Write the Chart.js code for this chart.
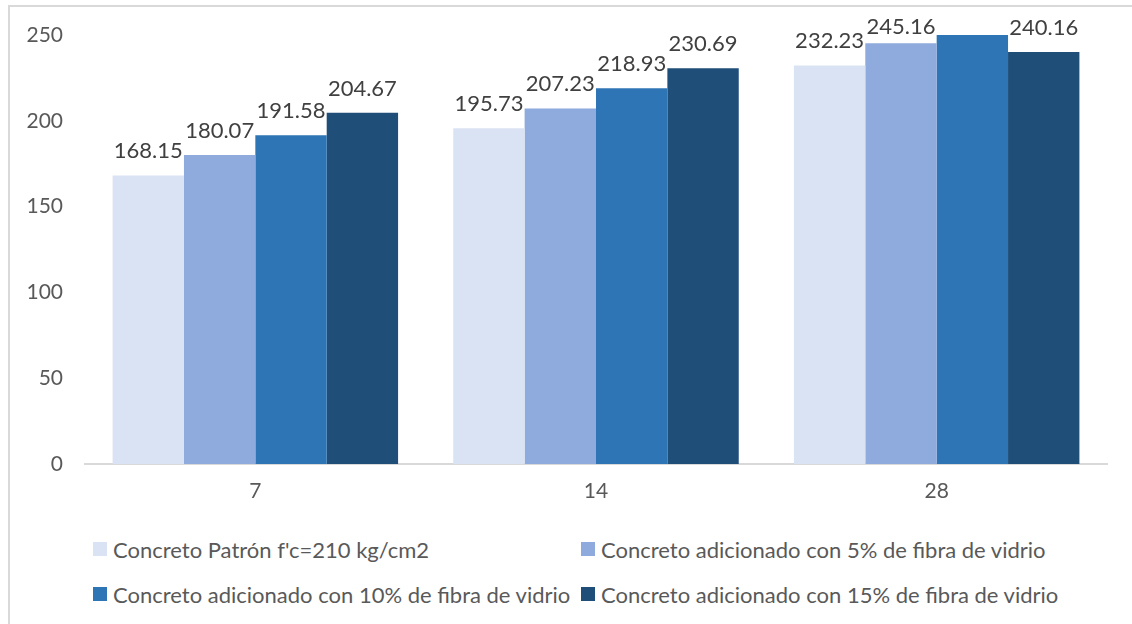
<!DOCTYPE html>
<html>
<head>
<meta charset="utf-8">
<script src="https://cdn.jsdelivr.net/npm/chart.js@4.4.0/dist/chart.umd.min.js"></script>
<style>
  html, body { margin: 0; padding: 0; background: #ffffff; }
  body { width: 1132px; height: 624px; position: relative; overflow: hidden; font-family: Lato, "Open Sans", sans-serif; }
  #frame { position: absolute; left: 8px; top: 5px; width: 1200px; height: 700px; border-left: 2px solid #d9d9d9; border-top: 2px solid #d9d9d9; box-sizing: border-box; }
  #wrap { position: absolute; left: 0; top: 0; width: 1132px; height: 520px; }
  .leg { position: absolute; display: flex; align-items: center; font-size: 22px; color: #595959; white-space: nowrap; height: 24px; }
  .leg span.box { display: inline-block; width: 14px; height: 14px; margin-right: 6px; }
</style>
</head>
<body>
<div id="frame"></div>
<div id="wrap"><canvas id="c"></canvas></div>
<div id="legend"></div>
<script>
const categories = ["7", "14", "28"];
const seriesNames = [
  "Concreto Patrón f'c=210 kg/cm2",
  "Concreto adicionado con 5% de fibra de vidrio",
  "Concreto adicionado con 10% de fibra de vidrio",
  "Concreto adicionado con 15% de fibra de vidrio"
];
const patron = [168.15, 195.73, 232.23];
const fibra5 = [180.07, 207.23, 245.16];
const fibra10 = [191.58, 218.93, 254.0];
const fibra15 = [204.67, 230.69, 240.16];
const yTicks = [0, 50, 100, 150, 200, 250];
const colors = ["#DAE3F3", "#8FAADC", "#2E75B6", "#1F4E79"];

const seriesValues = [patron, fibra5, fibra10, fibra15];
const yMax = yTicks[yTicks.length - 1];

const labelPlugin = {
  id: 'barLabels',
  afterDatasetsDraw(chart) {
    const ctx = chart.ctx;
    ctx.save();
    ctx.font = '22px Lato, "Open Sans", sans-serif';
    ctx.fillStyle = '#404040';
    ctx.textAlign = 'center';
    ctx.textBaseline = 'alphabetic';
    chart.data.datasets.forEach((ds, i) => {
      const meta = chart.getDatasetMeta(i);
      meta.data.forEach((bar, j) => {
        const v = ds.data[j];
        if (v > yMax) return;
        let y = bar.y - 17;
        if (y < 34) y = 34;
        ctx.fillText(v.toFixed(2), bar.x, y);
      });
    });
    ctx.restore();
  }
};

new Chart(document.getElementById('c'), {
  type: 'bar',
  data: {
    labels: categories,
    datasets: seriesValues.map((vals, i) => ({
      label: seriesNames[i],
      data: vals,
      backgroundColor: colors[i],
      borderWidth: 0,
      categoryPercentage: 0.838,
      barPercentage: 1.0
    }))
  },
  options: {
    responsive: true,
    maintainAspectRatio: false,
    animation: false,
    devicePixelRatio: 1,
    layout: { padding: { top: 35, right: 25, left: 0, bottom: 0 } },
    plugins: { legend: { display: false }, tooltip: { enabled: false } },
    scales: {
      x: {
        grid: { display: false, drawTicks: false },
        border: { display: true, color: '#d9d9d9', width: 2 },
        ticks: { color: '#595959', font: { family: 'Lato', size: 21 }, padding: 15 },
        afterFit(scale) { scale.height = 56; }
      },
      y: {
        min: 0,
        max: yMax,
        afterBuildTicks(scale) { scale.ticks = yTicks.map(v => ({ value: v })); },
        grid: { display: false, drawTicks: false },
        border: { display: false },
        ticks: { color: '#595959', font: { family: 'Lato', size: 21 }, padding: 22 },
        afterFit(scale) { scale.width = 85; }
      }
    }
  },
  plugins: [labelPlugin]
});

const legendPos = [
  { x: 93, y: 537 }, { x: 581, y: 537 },
  { x: 93, y: 582 }, { x: 581, y: 582 }
];
const legendEl = document.getElementById('legend');
seriesNames.forEach((name, i) => {
  const d = document.createElement('div');
  d.className = 'leg';
  d.style.left = legendPos[i].x + 'px';
  d.style.top = legendPos[i].y + 'px';
  const b = document.createElement('span');
  b.className = 'box';
  b.style.background = colors[i];
  d.appendChild(b);
  d.appendChild(document.createTextNode(name));
  legendEl.appendChild(d);
});
</script>
</body>
</html>
